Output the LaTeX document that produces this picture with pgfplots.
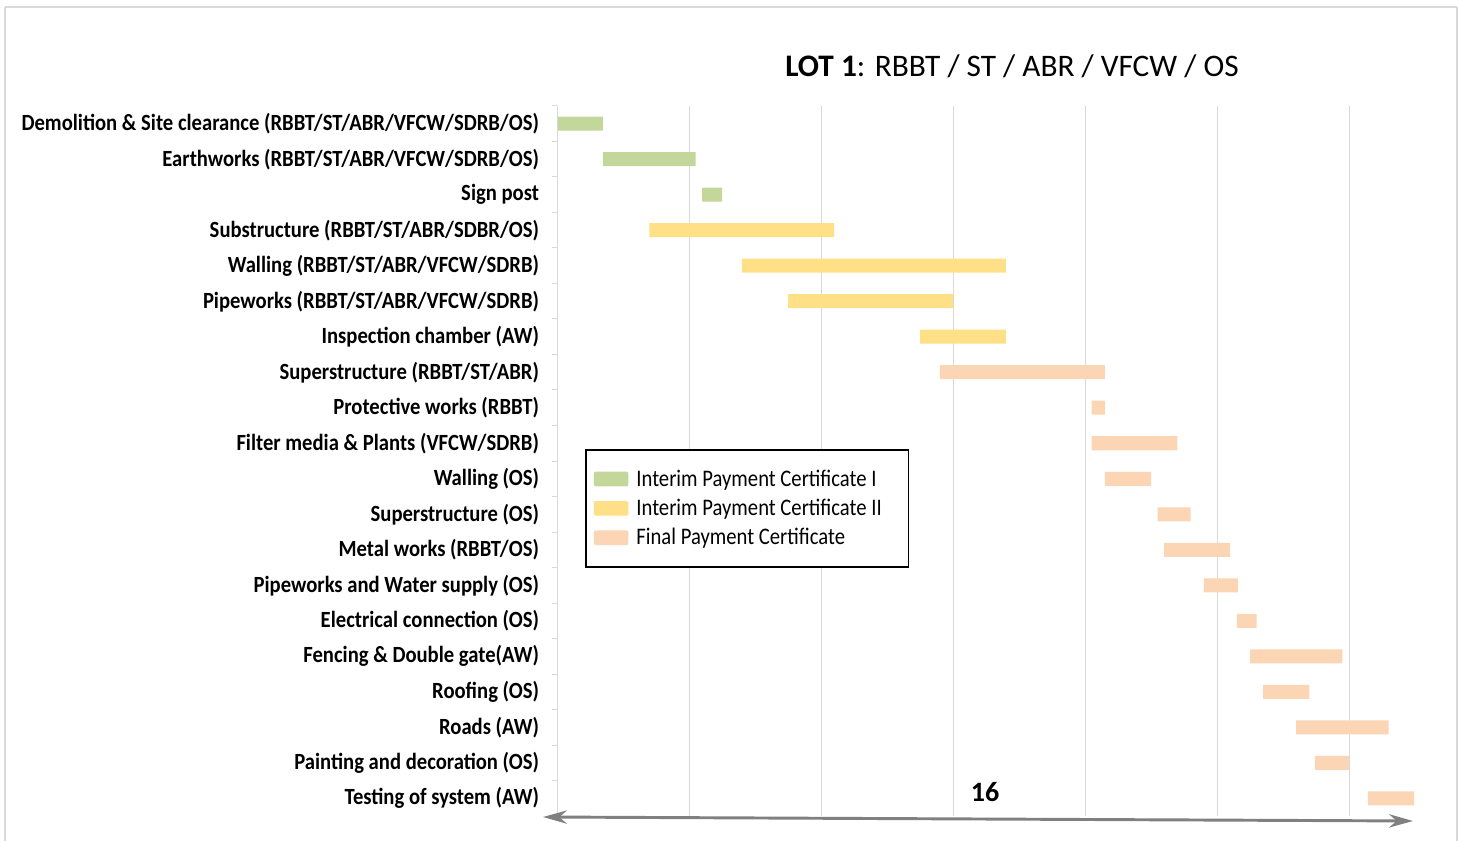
\documentclass[border=0pt]{standalone}
\usepackage{pgfplots}
\pgfplotsset{compat=1.18}
\usepackage{pgfplotstable}
\usepackage{fontspec}
\setmainfont{Carlito}
\newfontfamily\condfont[FakeStretch=0.89]{Carlito}
\newfontfamily\legfont[FakeStretch=0.87]{Carlito}
\usetikzlibrary{arrows.meta}
\definecolor{cgreen}{HTML}{C4D79B}
\definecolor{cyellow}{HTML}{FFE086}
\definecolor{cpeach}{HTML}{FCD5B5}
\definecolor{cgrid}{HTML}{D9D9D9}
\definecolor{carrow}{HTML}{808080}

\pgfplotstableread{
row start green yellow peach
1 0 21 0 0
2 21 42 0 0
3 66 9 0 0
4 42 0 84 0
5 84 0 120 0
6 105 0 75 0
7 165 0 39 0
8 174 0 0 75
9 243 0 0 6
10 243 0 0 39
11 249 0 0 21
12 273 0 0 15
13 276 0 0 30
14 294 0 0 15.5
15 309 0 0 9
16 315 0 0 42
17 321 0 0 21
18 336 0 0 42
19 344.5 0 0 15.5
20 368.6 0 0 21
}\gantt

\begin{document}
\begin{tikzpicture}[x=0.75pt,y=0.75pt]
\useasboundingbox (0,0) rectangle (1459,841);
\coordinate (A) at (557,25);
\draw[cgrid, line width=1.5pt] (5,834) -- (1457,834);
\draw[cgrid, line width=1.5pt] (5,834) -- (5,-60);
\draw[cgrid, line width=1.5pt] (1457,834) -- (1457,-60);
\node[font=\fontsize{23.5}{26}\selectfont, anchor=center] at (1012,775) {\textbf{LOT 1}: RBBT / ST / ABR / VFCW / OS};
\begin{axis}[
  at={(A)}, anchor=south west,
  scale only axis, width=660pt, height=532.5pt,
  xbar stacked, bar width=10.5pt,
  xmin=0, xmax=400, ymin=0.5, ymax=20.5,
  y dir=reverse,
  axis line style={draw=none},
  xtick={0,60,...,360}, xticklabels={},
  xmajorgrids, major grid style={cgrid, line width=0.75pt},
  xtick style={draw=none},
  ytick={1,...,20},
  minor ytick={0.5,1.5,...,20.5},
  ytick pos=left, tick align=outside,
  major tick length=0pt, minor tick length=4pt,
  minor tick style={cgrid, line width=0.75pt},
  yticklabel style={font=\fontsize{17.4}{19}\condfont\bfseries, xshift=-10pt},
  yticklabels={
    {Demolition \& Site clearance (RBBT/ST/ABR/VFCW/SDRB/OS)},
    {Earthworks (RBBT/ST/ABR/VFCW/SDRB/OS)},
    {Sign post},
    {Substructure (RBBT/ST/ABR/SDBR/OS)},
    {Walling (RBBT/ST/ABR/VFCW/SDRB)},
    {Pipeworks (RBBT/ST/ABR/VFCW/SDRB)},
    {Inspection chamber (AW)},
    {Superstructure (RBBT/ST/ABR)},
    {Protective works (RBBT)},
    {Filter media \& Plants (VFCW/SDRB)},
    {Walling (OS)},
    {Superstructure (OS)},
    {Metal works (RBBT/OS)},
    {Pipeworks and Water supply (OS)},
    {Electrical connection (OS)},
    {Fencing \& Double gate(AW)},
    {Roofing (OS)},
    {Roads (AW)},
    {Painting and decoration (OS)},
    {Testing of system (AW)}},
  legend style={at={(0.0318,0.5169)}, anchor=north west, draw=black, line width=1.2pt,
    font=\fontsize{17.8}{20}\legfont, row sep=4.2pt, inner xsep=6pt, inner ysep=13pt,
    legend cell align=left},
  legend image code/.code={\fill[#1, draw=none, rounded corners=1.5pt] (0pt,-5.5pt) rectangle (26pt,5.5pt);},
]
\draw[cgrid, line width=1pt] (rel axis cs:0,0) -- (rel axis cs:0,1);
\addplot[draw=none, fill=none, forget plot] table[x=start, y=row] {\gantt};
\addplot[draw=none, fill=cgreen] table[x=green, y=row] {\gantt};
\addplot[draw=none, fill=cyellow] table[x=yellow, y=row] {\gantt};
\addplot[draw=none, fill=cpeach] table[x=peach, y=row] {\gantt};
\legend{\hspace{4pt}Interim Payment Certificate I, \hspace{4pt}Interim Payment Certificate II\rule{12pt}{0pt}, \hspace{4pt}Final Payment Certificate}
\end{axis}
\node[font=\fontsize{21}{24}\selectfont\bfseries] at (985,49) {16};
\draw[carrow, line width=2.2pt, {Stealth[length=18pt,width=10pt]}-{Stealth[length=18pt,width=10pt]}] (543,24) -- (1413,20);
\end{tikzpicture}
\end{document}
